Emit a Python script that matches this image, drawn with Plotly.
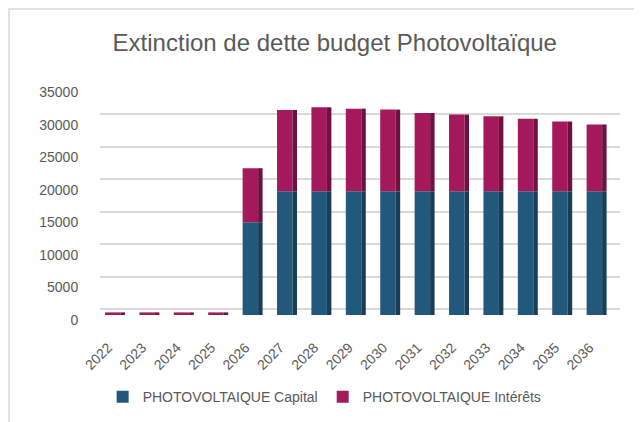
import plotly.graph_objects as go

years = ["2022", "2023", "2024", "2025", "2026", "2027", "2028", "2029",
         "2030", "2031", "2032", "2033", "2034", "2035", "2036"]
capital = [0, 0, 0, 0, 14250, 19000, 19000, 19000, 19000, 19000,
           19000, 19000, 19000, 19000, 19000]
interets = [400, 400, 400, 400, 8300, 12500, 12900, 12700, 12550, 12030,
            11780, 11520, 11140, 10720, 10270]
y_ticks = [0, 5000, 10000, 15000, 20000, 25000, 30000, 35000]

BLUE = "#22587B"
BLUE_SIDE = "#173E56"
PINK = "#A3195B"
PINK_SIDE = "#6E1141"
TXT = "#595959"
FONT = "Liberation Sans, Arial, sans-serif"

fig = go.Figure()
# front faces
fig.add_trace(go.Bar(x=years, y=capital, base=[0] * len(years),
                     width=0.45, offset=-0.29, marker_color=BLUE,
                     marker_line_width=0, name="PHOTOVOLTAIQUE Capital"))
fig.add_trace(go.Bar(x=years, y=interets, base=capital,
                     width=0.45, offset=-0.29, marker_color=PINK,
                     marker_line_width=0, name="PHOTOVOLTAIQUE Intérêts"))
# side faces (3D look)
fig.add_trace(go.Bar(x=years, y=capital, base=[0] * len(years),
                     width=0.13, offset=0.16, marker_color=BLUE_SIDE,
                     marker_line_width=0, showlegend=False, hoverinfo="skip"))
fig.add_trace(go.Bar(x=years, y=interets, base=capital,
                     width=0.13, offset=0.16, marker_color=PINK_SIDE,
                     marker_line_width=0, showlegend=False, hoverinfo="skip"))
# helper trace for the back-wall gridline axis
fig.add_trace(go.Scatter(x=years, y=[None] * len(years), yaxis="y2",
                         showlegend=False, hoverinfo="skip", mode="lines"))

fig.update_layout(
    width=642, height=422,
    barmode="overlay",
    paper_bgcolor="white", plot_bgcolor="white",
    margin=dict(l=92, r=30, t=73, b=115, autoexpand=False),
    font=dict(family=FONT, color=TXT, size=14),
    title=dict(text="Extinction de dette budget Photovoltaïque",
               x=0.509, xref="container", xanchor="center",
               y=0.919, yref="container", yanchor="middle",
               font=dict(size=24, color=TXT, family=FONT)),
    xaxis=dict(type="category", range=[-0.436, 14.68], tickangle=-45,
               showgrid=False, showline=False, zeroline=False,
               automargin=False, ticklabelshift=-7,
               ticks="outside", ticklen=18, tickcolor="rgba(0,0,0,0)",
               tickfont=dict(size=14, color=TXT)),
    yaxis=dict(range=[0, 35945], tickmode="array", tickvals=y_ticks,
               ticktext=[str(v) for v in y_ticks], showgrid=False,
               zeroline=False, showline=False, automargin=False,
               ticklabelshift=5,
               ticks="outside", ticklen=18, tickcolor="rgba(0,0,0,0)",
               tickfont=dict(size=14, color=TXT)),
    yaxis2=dict(range=[-876, 35069], overlaying="y", side="left",
                tickmode="array", tickvals=y_ticks, showgrid=True,
                gridcolor="#D9D9D9", gridwidth=2, showticklabels=False,
                zeroline=False, showline=False, automargin=False),
    legend=dict(orientation="h", x=0.432, xanchor="center",
                y=0.078, yref="container", yanchor="middle",
                font=dict(size=14, color=TXT, family=FONT),
                traceorder="normal"),
    shapes=[dict(type="rect", xref="paper", yref="paper",
                 x0=-0.175, x1=1.3, y0=-0.6, y1=1.3077,
                 line=dict(color="#D9D9D9", width=1.5),
                 fillcolor="rgba(0,0,0,0)", layer="below")],
    showlegend=True,
)

fig.write_html("out.html")
